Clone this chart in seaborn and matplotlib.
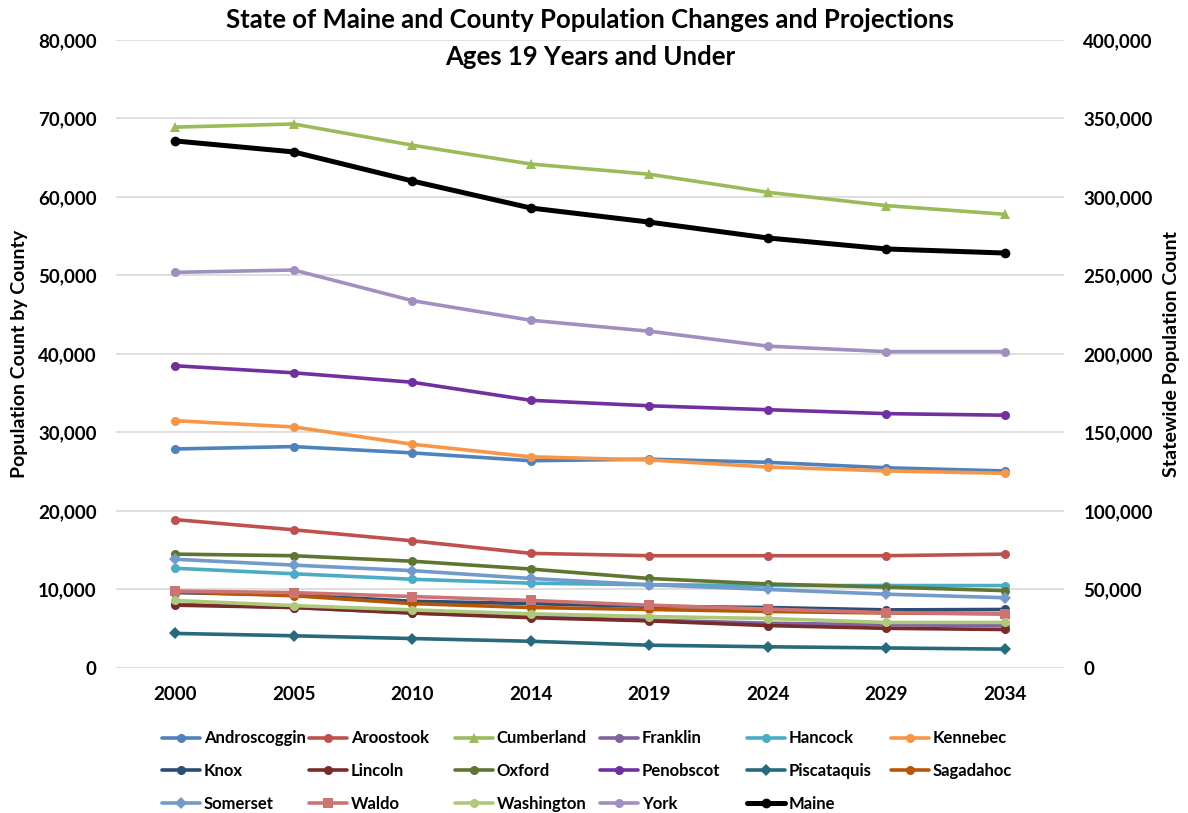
import matplotlib
matplotlib.use("Agg")
import matplotlib.pyplot as plt
import matplotlib.ticker as mticker
import seaborn as sns
import pandas as pd

years = ["2000", "2005", "2010", "2014", "2019", "2024", "2029", "2034"]

androscoggin = [27900, 28200, 27400, 26400, 26600, 26200, 25500, 25100]
aroostook = [18900, 17600, 16200, 14600, 14300, 14300, 14300, 14500]
cumberland = [68900, 69300, 66600, 64200, 62900, 60600, 58900, 57800]
franklin = [8100, 7700, 7000, 6500, 6100, 5700, 5500, 5400]
hancock = [12700, 12000, 11300, 10800, 10600, 10500, 10500, 10500]
kennebec = [31500, 30700, 28500, 26900, 26500, 25600, 25100, 24800]
knox = [9600, 9300, 8500, 8200, 7850, 7700, 7400, 7450]
lincoln = [8000, 7700, 7000, 6400, 6000, 5400, 5050, 4900]
oxford = [14500, 14300, 13600, 12600, 11400, 10700, 10300, 9850]
penobscot = [38500, 37600, 36400, 34100, 33400, 32900, 32400, 32200]
piscataquis = [4400, 4100, 3750, 3400, 2900, 2700, 2550, 2400]
sagadahoc = [9700, 9200, 8200, 7700, 7450, 7200, 7000, 6900]
somerset = [13850, 13100, 12400, 11400, 10600, 10000, 9400, 8950]
waldo = [9800, 9600, 9100, 8600, 8000, 7500, 7050, 6900]
washington = [8600, 7950, 7400, 6900, 6550, 6300, 5800, 5800]
york = [50400, 50700, 46800, 44300, 42900, 41000, 40300, 40300]
maine = [335700, 328700, 310200, 293000, 284000, 273900, 266900, 264300]

counties = ["Androscoggin", "Aroostook", "Cumberland", "Franklin", "Hancock", "Kennebec",
            "Knox", "Lincoln", "Oxford", "Penobscot", "Piscataquis", "Sagadahoc",
            "Somerset", "Waldo", "Washington", "York"]
county_values = [androscoggin, aroostook, cumberland, franklin, hancock, kennebec,
                 knox, lincoln, oxford, penobscot, piscataquis, sagadahoc,
                 somerset, waldo, washington, york]

colors = ["#4F81BD", "#C0504D", "#9BBB59", "#8064A2", "#4BACC6", "#F79646",
          "#2C4D75", "#772C2A", "#5F7530", "#7030A0", "#276A7C", "#B65708",
          "#729ACA", "#CD7371", "#AFC97A", "#A18FBF"]
marker_list = ["o", "o", "^", "o", "o", "o", "o", "o", "o", "o", "D", "o",
               "D", "s", "o", "o"]

df = pd.DataFrame([
    {"year": y, "pop": v, "county": c}
    for c, vals in zip(counties, county_values)
    for y, v in zip(years, vals)
])
maine_df = pd.DataFrame({"year": years, "pop": maine})

sns.set_theme(style="white")
plt.rcParams["font.family"] = ["Lato", "DejaVu Sans"]
plt.rcParams["font.weight"] = "bold"
plt.rcParams["text.color"] = "black"
plt.rcParams["axes.labelcolor"] = "black"
plt.rcParams["xtick.color"] = "black"
plt.rcParams["ytick.color"] = "black"

fig = plt.figure(figsize=(11.88, 8.13), dpi=100)
ax = fig.add_axes([0.0976, 0.1784, 0.798, 0.7724])
ax2 = ax.twinx()

sns.lineplot(data=df, x="year", y="pop", hue="county", style="county",
             hue_order=counties, style_order=counties,
             palette=dict(zip(counties, colors)),
             markers=dict(zip(counties, marker_list)), dashes=False,
             linewidth=2.6, markersize=6.5, markeredgewidth=0, sort=False, ax=ax)
sns.lineplot(data=maine_df, x="year", y="pop", color="black", marker="o",
             linewidth=3.6, markersize=7, markeredgewidth=0, sort=False,
             label="Maine", ax=ax2)

h1, l1 = ax.get_legend_handles_labels()
h2, l2 = ax2.get_legend_handles_labels()
ax.get_legend().remove()
ax2.get_legend().remove()
handles = h1 + h2
labels = l1 + l2

# Excel-style legend: six equal-width columns, filled row by row
col_x = [162, 309, 455, 600, 747, 891]
for c, x in enumerate(col_x):
    idx = list(range(c, len(handles), 6))
    fig.legend([handles[i] for i in idx], [labels[i] for i in idx],
               loc="upper left", bbox_to_anchor=(x / 1188, 0.1015),
               ncol=1, frameon=False, fontsize=12, handlelength=2.3,
               labelspacing=1.0, handletextpad=0.2, borderpad=0,
               borderaxespad=0)

ax.set_xlim(-0.5, len(years) - 0.5)
ax.set_ylim(0, 80000)
ax2.set_ylim(0, 400000)
ax.set_yticks(range(0, 80001, 10000))
ax2.set_yticks(range(0, 400001, 50000))
fmt = mticker.FuncFormatter(lambda v, p: f"{int(v):,}")
ax.yaxis.set_major_formatter(fmt)
ax2.yaxis.set_major_formatter(fmt)

ax.grid(axis="y", color="#D9D9D9", linewidth=1.2)
ax.grid(axis="x", visible=False)
ax2.grid(False)
for a in (ax, ax2):
    for s in a.spines.values():
        s.set_visible(False)
    a.tick_params(axis="both", length=0, labelsize=13.5, pad=14)
    a.set_xlabel("")
ax.tick_params(axis="x", pad=13)

ax.set_ylabel("Population Count by County", fontsize=14, fontweight="bold", labelpad=7)
ax2.set_ylabel("Statewide Population Count", fontsize=14, fontweight="bold", labelpad=7)

fig.text(0.497, 0.975, "State of Maine and County Population Changes and Projections",
         ha="center", va="center", fontsize=18.5, fontweight="bold")
fig.text(0.497, 0.93, "Ages 19 Years and Under",
         ha="center", va="center", fontsize=18.5, fontweight="bold")

fig.savefig("out.png", dpi=100)
